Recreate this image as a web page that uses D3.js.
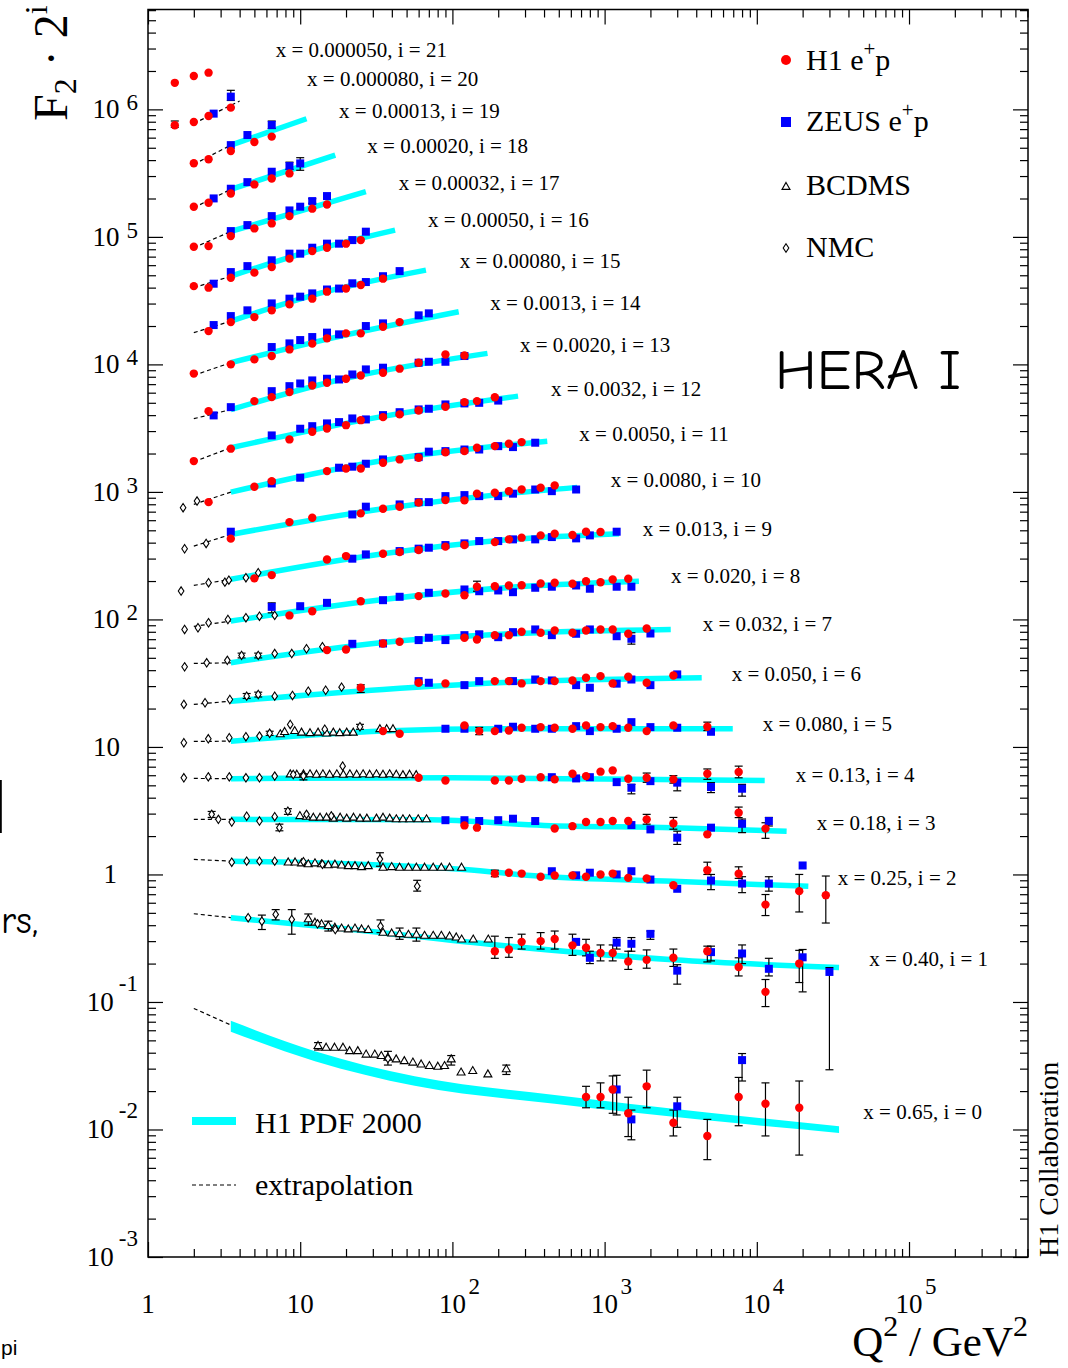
<!DOCTYPE html>
<html><head><meta charset="utf-8">
<script src="https://cdn.jsdelivr.net/npm/d3@7/dist/d3.min.js"></script>
<style>
body{margin:0;background:#fff;}
svg{display:block;}
text{font-family:"Liberation Serif","Times New Roman",serif;fill:#000;}
</style></head><body>
<svg id="chart" width="1068" height="1368"></svg>
<script>
// ---------------- DATA ----------------
// x bins (label text), i = 0..21
const xBins = ["0.65","0.40","0.25","0.18","0.13","0.080","0.050","0.032","0.020","0.013","0.0080","0.0050","0.0032","0.0020","0.0013","0.00080","0.00050","0.00032","0.00020","0.00013","0.000080","0.000050"];
// label anchors (Q2 of label start, log10 of plotted value at baseline), i = 0..21
const labelQ2 = [50100,54850,34030,24770,18020,10930,6846,4413,2729,1779,1097,682,444,278,177.4,111.7,69.1,44.4,27.6,18.0,11.1,6.9];
const labelLogV = [-1.9216,-0.7192,-0.0839,0.3475,0.7263,1.1263,1.5184,1.9106,2.2824,2.6533,3.0353,3.4008,3.7514,4.1004,4.4259,4.7529,5.0745,5.3671,5.6549,5.9341,6.1827,6.4125];

// [i, Q2, F2, errLo, errHi]
const h1 = [
 [21,1.5,0.77],[21,2,0.87],[21,2.5,0.925],
 [20,1.5,0.715,0.69,0.773],[20,2,0.76],[20,2.5,0.846],[20,3.5,0.984],
 [19,2,0.72],[19,2.5,0.774],[19,3.5,0.9],[19,5,1.057],[19,6.5,1.166],
 [18,2,0.658],[18,2.5,0.707],[18,3.5,0.836],[18,5,0.984],[18,6.5,1.096],[18,8.5,1.2],
 [17,2,0.639],[17,2.5,0.646],[17,3.5,0.774],[17,5,0.889],[17,6.5,0.973],[17,8.5,1.11],[17,12,1.27],[17,15,1.37],
 [16,2,0.627],[16,2.5,0.61],[16,3.5,0.73],[16,5,0.8],[16,6.5,0.885],[16,8.5,1.03],[16,12,1.18],[16,15,1.255],[16,20,1.35],[16,25,1.44],
 [15,2.5,0.557],[15,3.5,0.655],[15,5,0.717],[15,6.5,0.81],[15,8.5,0.902],[15,12,1.0],[15,15,1.135],[15,20,1.2],[15,25,1.28],[15,35,1.435],
 [14,2,0.517],[14,3.5,0.611],[14,5,0.668],[14,6.5,0.71],[14,8.5,0.8],[14,12,0.888],[14,15,0.977],[14,20,1.069],[14,25,1.069],[14,35,1.206],[14,45,1.31],
 [13,2.5,0.525],[13,5,0.629],[13,6.5,0.676],[13,8.5,0.74],[13,12,0.835],[13,15,0.877],[13,20,0.942],[13,25,1.0],[13,35,1.05],[13,45,1.13],[13,60,1.258],[13,90,1.46],[13,120,1.435],
 [12,2,0.426],[12,3.5,0.533],[12,8.5,0.63],[12,12,0.724],[12,15,0.768],[12,20,0.815],[12,25,0.892],[12,35,0.942],[12,45,0.99],[12,60,1.063],[12,90,1.137],[12,120,1.235],[12,145,1.258],[12,190,1.35],
 [11,2.5,0.406],[11,5,0.536],[11,6.5,0.593],[11,15,0.711],[11,20,0.746],[11,25,0.746],[11,35,0.827],[11,45,0.878],[11,60,0.905],[11,90,1.0],[11,120,1.02],[11,145,1.085],[11,190,1.116],[11,235,1.166],[11,285,1.2],
 [10,3.5,0.42],[10,8.5,0.566],[10,12,0.613],[10,25,0.663],[10,35,0.721],[10,45,0.748],[10,60,0.805],[10,90,0.842],[10,120,0.838],[10,145,0.946],[10,190,0.963],[10,235,0.99],[10,285,1.02],[10,380,1.054],[10,470,1.098],
 [9,5,0.41],[9,6.5,0.435],[9,15,0.577],[9,20,0.613],[9,35,0.64],[9,45,0.659],[9,60,0.684],[9,90,0.727],[9,120,0.748],[9,190,0.789],[9,235,0.829],[9,285,0.855],[9,380,0.891],[9,470,0.919],[9,615,0.896],[9,755,0.952],[9,940,0.946],
 [8,8.5,0.42],[8,12,0.453],[8,25,0.543],[8,60,0.595],[8,90,0.624],[8,120,0.605],[8,145,0.705,0.65,0.779],[8,190,0.712],[8,235,0.721],[8,285,0.725],[8,380,0.748],[8,470,0.757],[8,615,0.744],[8,755,0.779],[8,940,0.765],[8,1130,0.804],[8,1430,0.814],
 [7,15,0.449],[7,20,0.454],[7,35,0.506],[7,45,0.522],[7,120,0.561],[7,145,0.544],[7,190,0.588],[7,235,0.588],[7,285,0.625],[7,380,0.614],[7,470,0.64],[7,615,0.614],[7,755,0.64],[7,940,0.652],[7,1130,0.652],[7,1430,0.603],[7,1890,0.664],
 [6,25,0.455,0.418,0.48],[6,60,0.498],[6,90,0.492],[6,190,0.513],[6,235,0.513],[6,285,0.492],[6,380,0.513],[6,470,0.513],[6,615,0.519],[6,755,0.545],[6,940,0.561],[6,1130,0.492],[6,1430,0.555],[6,1890,0.498],[6,2830,0.568],
 [5,35,0.416],[5,45,0.397],[5,120,0.461],[5,150,0.416,0.39,0.445],[5,190,0.416],[5,235,0.42],[5,285,0.442],[5,380,0.447],[5,470,0.442],[5,615,0.434],[5,755,0.461],[5,940,0.447],[5,1130,0.455],[5,1430,0.442],[5,1890,0.416],[5,2830,0.461],[5,4730,0.45,0.42,0.489],
 [4,60,0.358],[4,90,0.341],[4,190,0.341],[4,235,0.341],[4,285,0.352],[4,380,0.362],[4,470,0.348],[4,615,0.385],[4,755,0.369],[4,940,0.4],[4,1130,0.409],[4,1430,0.352],[4,1890,0.358,0.33,0.39],[4,2830,0.348,0.325,0.372],[4,4730,0.385,0.348,0.42],[4,7600,0.397,0.358,0.442],
 [3,120,0.303],[3,145,0.291],[3,470,0.287],[3,615,0.299],[3,755,0.322],[3,940,0.322],[3,1130,0.328],[3,1430,0.328],[3,1890,0.338,0.31,0.37],[3,2830,0.314,0.283,0.35],[3,4730,0.258],[3,7600,0.381,0.349,0.422],[3,11400,0.286,0.24,0.318],
 [2,190,0.254,0.24,0.27],[2,235,0.258],[2,285,0.254],[2,380,0.24],[2,470,0.245],[2,615,0.246],[2,755,0.24],[2,940,0.25],[2,1130,0.254],[2,1430,0.235],[2,1890,0.233],[2,2830,0.206],[2,4730,0.27,0.25,0.312],[2,7600,0.253,0.233,0.287],[2,11400,0.145,0.119,0.174],[2,19000,0.185,0.127,0.25],[2,28400,0.172,0.104,0.243],
 [1,190,0.125,0.11,0.164],[1,235,0.129,0.112,0.16],[1,285,0.148,0.13,0.17],[1,380,0.15,0.13,0.175],[1,470,0.156,0.13,0.18],[1,615,0.139,0.116,0.17],[1,755,0.133,0.115,0.155],[1,940,0.121,0.105,0.14],[1,1130,0.121,0.105,0.14],[1,1430,0.104,0.09,0.125],[1,1890,0.107,0.092,0.128],[1,2830,0.111,0.095,0.13],[1,4730,0.125,0.103,0.137],[1,7600,0.094,0.08,0.111],[1,11400,0.06,0.046,0.075],[1,19000,0.1,0.071,0.127],
 [0,755,0.018,0.0148,0.0218],[0,940,0.018,0.0148,0.0232],[0,1130,0.0206,0.0134,0.0263],[0,1430,0.0134,0.0088,0.0179],[0,1890,0.0218,0.0148,0.0292],[0,2830,0.0113,0.0089,0.0142],[0,4730,0.0089,0.0058,0.012],[0,7600,0.018,0.0107,0.0256],[0,11400,0.0159,0.0089,0.0232],[0,19000,0.0148,0.0063,0.024]
];

const zeus = [
 [20,2.7,0.883],[20,3.5,1.2,1.12,1.345],
 [19,3.5,1.0],[19,4.5,1.2],[19,6.5,1.44,1.35,1.545],
 [18,2.7,0.764],[18,3.5,0.91],[18,4.5,1.025],[18,6.5,1.237],[18,8.5,1.37,1.29,1.47],[18,10,1.438,1.27,1.594],
 [17,3.5,0.847],[17,4.5,0.944],[17,6.5,1.11],[17,8.5,1.23],[17,10,1.316],[17,12,1.456,1.4,1.52],[17,15,1.594,1.53,1.66],
 [16,2.7,0.655],[16,3.5,0.808],[16,4.5,0.9],[16,6.5,1.0],[16,8.5,1.127],[16,10,1.127],[16,12,1.255],[16,15,1.35],[16,18,1.35],[16,22,1.44],[16,27,1.676],
 [15,2.7,0.621],[15,3.5,0.73],[15,4.5,0.81],[15,6.5,0.918],[15,8.5,1.0],[15,10,1.037],[15,12,1.1],[15,15,1.18],[15,18,1.2],[15,22,1.32],[15,27,1.35],[15,35,1.5],[15,45,1.645],
 [14,6.5,0.835],[14,8.5,0.892],[14,10,0.947],[14,12,1.0],[14,15,1.083],[14,18,1.05],[14,27,1.22],[14,35,1.28],[14,60,1.48],[14,70,1.534],
 [13,2.7,0.486],[13,3.5,0.564],[13,6.5,0.753],[13,8.5,0.824],[13,10,0.865],[13,12,0.914],[13,15,0.942],[13,18,0.93],[13,22,1.018],[13,27,1.115],[13,35,1.15],[13,60,1.258],[13,70,1.28],[13,90,1.28],[13,120,1.42],
 [12,6.5,0.677],[12,10,0.764],[12,12,0.8],[12,15,0.841],[12,18,0.861],[12,22,0.92],[12,27,0.904],[12,35,0.977],[12,45,1.03],[12,60,1.083],[12,70,1.096],[12,90,1.185],[12,120,1.207],[12,150,1.22],[12,200,1.27],
 [11,6.5,0.569],[11,10,0.631],[11,18,0.756],[11,22,0.77],[11,27,0.812],[11,35,0.878],[11,60,0.915],[11,70,1.01],[11,90,1.02],[11,120,1.05],[11,150,1.05],[11,200,1.116],[11,250,1.097],[11,350,1.187],
 [10,3.5,0.476],[10,22,0.65],[10,27,0.748],[10,45,0.779],[10,60,0.812],[10,70,0.812],[10,90,0.905],[10,120,0.922],[10,150,0.905],[10,200,0.905],[10,250,0.946],[10,350,1.02],[10,450,0.99],[10,650,1.02],
 [9,22,0.585],[9,27,0.632],[9,45,0.671],[9,60,0.701],[9,70,0.713],[9,90,0.748],[9,120,0.771],[9,150,0.804],[9,200,0.804],[9,250,0.829],[9,350,0.829],[9,450,0.864],[9,650,0.844],[9,800,0.891],[9,1200,0.952],
 [8,6.5,0.49,0.44,0.527],[8,10,0.496],[8,15,0.527],[8,35,0.553],[8,45,0.588],[8,70,0.632],[8,120,0.671],[8,150,0.65],[8,200,0.659],[8,250,0.639],[8,350,0.692],[8,450,0.705],[8,650,0.721],[8,800,0.68],[8,1200,0.705],[8,1500,0.705],
 [7,22,0.503],[7,35,0.506],[7,60,0.538],[7,70,0.561],[7,90,0.538],[7,120,0.588],[7,150,0.596,0.56,0.63],[7,200,0.567],[7,250,0.621],[7,350,0.652],[7,450,0.588],[7,650,0.603],[7,800,0.652],[7,1200,0.577],[7,1500,0.551,0.5,0.614],[7,2000,0.606],
 [6,60,0.513],[6,70,0.498],[6,120,0.477],[6,150,0.513],[6,250,0.513],[6,350,0.528],[6,450,0.519],[6,650,0.477],[6,800,0.455],[6,1200,0.49],[6,1500,0.528],[6,2000,0.477],[6,3000,0.579],
 [5,90,0.434],[5,120,0.434],[5,200,0.434],[5,250,0.45],[5,350,0.434],[5,450,0.434],[5,650,0.455],[5,800,0.416],[5,1200,0.434],[5,1500,0.489],[5,2000,0.447],[5,3000,0.442],[5,5000,0.411],
 [4,450,0.362],[4,650,0.354],[4,800,0.362],[4,1200,0.331],[4,1500,0.299,0.268,0.318],[4,2000,0.337],[4,3000,0.328,0.283,0.348],[4,5000,0.303,0.274,0.328],[4,8000,0.294,0.257,0.318],
 [3,90,0.333],[3,120,0.333],[3,150,0.328],[3,200,0.333],[3,250,0.342],[3,350,0.328],[3,1500,0.305],[3,2000,0.282],[3,3000,0.243,0.215,0.273],[3,5000,0.291],[3,8000,0.312,0.266,0.34],[3,12000,0.328,0.3,0.35],
 [2,450,0.265],[2,650,0.246],[2,800,0.258],[2,1200,0.25],[2,1500,0.265],[2,2000,0.228],[2,3000,0.193],[2,5000,0.224,0.19,0.25],[2,8000,0.212,0.18,0.24],[2,12000,0.212,0.185,0.24],[2,20000,0.294],
 [1,650,0.148],[1,800,0.111,0.1,0.125],[1,1200,0.146,0.13,0.16],[1,1500,0.143,0.125,0.16],[1,2000,0.171,0.155,0.18],[1,3000,0.088,0.069,0.098],[1,5000,0.123,0.105,0.137],[1,8000,0.12,0.1,0.14],[1,12000,0.091,0.08,0.11],[1,20000,0.112,0.06,0.129],[1,30000,0.086,0.0147,0.093],
 [0,1200,0.0206,0.013,0.0266],[0,1500,0.012,0.0083,0.0142],[0,3000,0.0152,0.0104,0.0179],[0,8000,0.035,0.024,0.0394]
];

const bcdms = [
 [5,7.4,0.392],[5,7.9,0.409],[5,9.2,0.416],[5,10.2,0.404],[5,11.6,0.4],[5,13.1,0.404],[5,14.9,0.398],[5,16.5,0.404],[5,18.2,0.4],[5,20.2,0.404],[5,22.3,0.404],[5,33.4,0.43],[5,37,0.43],[5,40.7,0.43],
 [4,8.6,0.38],[4,9.5,0.378],[4,10.5,0.38],[4,11.6,0.381],[4,12.8,0.378],[4,14.1,0.381],[4,15.6,0.378],[4,17.4,0.381],[4,19.2,0.378],[4,21.2,0.381],[4,23.5,0.378],[4,25.9,0.381],[4,28.6,0.378],[4,31.7,0.381],[4,35,0.378],[4,38.7,0.381],[4,42.8,0.378],[4,47.3,0.375],[4,52.3,0.378],[4,57.8,0.375],
 [3,9.95,0.358],[3,11,0.354],[3,12.2,0.348],[3,13.5,0.348],[3,14.9,0.348],[3,16.5,0.342],[3,18.3,0.348],[3,20.2,0.342],[3,22.4,0.348],[3,24.7,0.342],[3,27.4,0.342],[3,31.7,0.342],[3,35,0.348],[3,38.7,0.342],[3,42.8,0.338],[3,47.3,0.338],[3,52.3,0.338],[3,59.6,0.338],[3,67.6,0.338],
 [2,8.34,0.31],[2,9.25,0.31],[2,10.2,0.305],[2,11.3,0.3],[2,12.5,0.305],[2,13.8,0.3],[2,15.3,0.295],[2,16.9,0.298],[2,18.7,0.293],[2,20.7,0.29],[2,22.9,0.29],[2,25.3,0.285],[2,28,0.29],[2,35,0.282],[2,39.9,0.285],[2,45,0.282],[2,51.4,0.282],[2,58,0.282],[2,65.6,0.282],[2,74.8,0.282],[2,84.6,0.282],[2,95.8,0.282],[2,114.8,0.282],
 [1,11.3,0.222,0.2,0.245],[1,12.5,0.209],[1,13.8,0.203],[1,15.3,0.197,0.18,0.215],[1,16.9,0.191],[1,18.7,0.188],[1,20.7,0.185],[1,22.9,0.188],[1,25.3,0.185],[1,28,0.183],[1,35,0.174],[1,39.9,0.172],[1,45,0.17,0.155,0.19],[1,51.4,0.168],[1,58,0.168,0.15,0.19],[1,65.6,0.165],[1,74.8,0.165],[1,84.6,0.165],[1,95.8,0.163],[1,106,0.16],[1,115,0.154],[1,137,0.154],[1,172,0.154],
 [0,13.1,0.0451,0.042,0.048],[0,14.8,0.0437],[0,16.8,0.0437],[0,19.1,0.0437],[0,21.1,0.0411],[0,23.9,0.0411],[0,27.1,0.0386],[0,30.9,0.0386],[0,34.1,0.0376],[0,37.7,0.0365],[0,42.7,0.0354],[0,48.3,0.0343],[0,55,0.0334],[0,62.3,0.0323],[0,70.6,0.0314],[0,80.2,0.031],[0,88.8,0.0314],[0,98.2,0.0354,0.032,0.038],[0,114,0.0279],[0,136,0.0287],[0,171,0.027],[0,226,0.0296,0.027,0.032]
];

const nmc = [
 [11,1.7,0.367],[11,2.1,0.414],
 [10,1.74,0.35],[10,2.41,0.385],
 [9,1.65,0.326],[9,2.5,0.379],[9,3.2,0.383],[9,3.4,0.397],[9,4.4,0.415],[9,5.3,0.454],
 [8,1.74,0.326],[8,2.13,0.336],[8,2.5,0.368],[8,3.35,0.39],[8,4.4,0.403],[8,5.4,0.414],[8,6.8,0.42],
 [7,1.74,0.332],[7,2.43,0.357],[7,3.32,0.373],[7,4.12,0.408,0.39,0.425],[7,5.3,0.408,0.39,0.425],[7,6.8,0.422],[7,8.8,0.422],[7,11,0.46],[7,14,0.477],
 [6,1.72,0.337],[6,2.37,0.347],[6,3.45,0.368],[6,4.45,0.391,0.375,0.41],[6,5.3,0.403,0.385,0.42],[6,6.8,0.391],[6,8.9,0.396],[6,11.3,0.428],[6,14.7,0.435],[6,18.7,0.46],
 [5,1.72,0.337],[5,2.49,0.362],[5,3.42,0.369],[5,4.4,0.376],[5,5.4,0.38],[5,6.3,0.4,0.385,0.415],[5,8.6,0.469],[5,14.5,0.43],[5,24.7,0.45,0.43,0.47],
 [4,1.72,0.358],[4,2.49,0.364],[4,3.42,0.364],[4,4.4,0.358],[4,5.4,0.358],[4,6.8,0.369],[4,9,0.38],[4,10.5,0.37,0.345,0.385],[4,19,0.442],
 [3,2.62,0.37,0.35,0.39],[3,2.9,0.338],[3,3.55,0.322],[3,4.45,0.358],[3,5.4,0.328],[3,6.8,0.355],[3,7.3,0.291,0.275,0.31],[3,8.3,0.392,0.37,0.41],[3,11,0.37],[3,16,0.36],
 [2,3.55,0.312],[2,4.45,0.318],[2,5.4,0.318],[2,6.8,0.318],[2,10.5,0.315],[2,14,0.3],[2,33.4,0.33,0.29,0.37],[2,58.7,0.202,0.185,0.225],
 [1,4.55,0.229],[1,5.6,0.215,0.185,0.24],[1,6.9,0.243,0.22,0.265],[1,8.8,0.222,0.17,0.265],[1,13,0.205],[1,17,0.185],[1,33.7,0.196,0.175,0.22],
 [0,37.7,0.036,0.032,0.041]
];

// H1 PDF 2000 fit, [i, Q2, F2]
const fitBand = [
 [19,3.5,1.0],[19,11,1.61],
 [18,3.5,0.9],[18,17,1.67],
 [17,3.5,0.842],[17,27,1.725],
 [16,3.5,0.75],[16,12,1.19],[16,42,1.725],
 [15,3.5,0.667],[15,15,1.14],[15,67,1.675],
 [14,3.5,0.63],[14,20,1.04],[14,110,1.58],
 [13,3.5,0.54],[13,20,0.95],[13,170,1.49],
 [12,3.5,0.542],[12,35,0.955],[12,270,1.377],
 [11,3.5,0.487],[11,35,0.86],[11,420,1.22],
 [10,3.5,0.453],[10,35,0.72],[10,200,0.93],[10,660,1.06],
 [9,3.5,0.403],[9,35,0.64],[9,250,0.83],[9,1245,0.919],
 [8,3.5,0.379],[8,35,0.56],[8,300,0.71],[8,1680,0.78],
 [7,3.5,0.357],[7,35,0.515],[7,300,0.61],[7,2720,0.652],
 [6,3.5,0.357],[6,35,0.441],[6,200,0.498],[6,4345,0.545],
 [5,3.5,0.347],[5,35,0.416],[5,200,0.434],[5,6950,0.434],
 [4,3.5,0.352],[4,100,0.358],[4,1000,0.35],[4,11270,0.341],
 [3,3.5,0.338],[3,70,0.335],[3,400,0.303],[3,2800,0.291],[3,15700,0.273],
 [2,3.5,0.318],[2,120,0.273],[2,380,0.242],[2,2800,0.221],[2,21800,0.202],
 [1,3.5,0.229],[1,17,0.191],[1,205,0.139],[1,2830,0.107],[1,34700,0.093]
];
// i = 0 fit band as [Q2, lower F2, upper F2]
const band0 = [[3.5,0.0585,0.0712],[12.5,0.0343,0.0411],[56.5,0.022,0.0261],[470,0.0159,0.0186],[4690,0.0118,0.0136],[34700,0.0094,0.0106]];
// extrapolation: [i, Q2 start, F2 start, Q2 end, F2 end]
const extrap = [[20,2,0.74,4.0,1.108],[19,2,0.707,3.5,1.0],[18,2,0.646,3.5,0.9],[17,2,0.627,3.5,0.842],[16,2,0.61,3.5,0.75],[15,2,0.541,3.5,0.667],[14,2,0.501,3.5,0.63],[13,2,0.458,3.5,0.54],[12,2,0.421,3.5,0.542],[11,2,0.39,3.5,0.487],[10,2,0.367,3.5,0.453],[9,2,0.361,3.5,0.403],[8,2,0.344,3.5,0.379],[7,2,0.353,3.5,0.357],[6,2,0.337,3.5,0.357],[5,2,0.345,3.5,0.347],[4,2,0.354,3.5,0.352],[3,2,0.338,3.5,0.338],[2,2,0.328,3.5,0.318],[1,2,0.246,3.5,0.229],[0,2,0.089,3.5,0.066]];

// axis ticks
const xMajor = [1,10,100,1e3,1e4,1e5];
const yMajor = [1e-3,1e-2,1e-1,1,10,100,1e3,1e4,1e5,1e6];

// ---------------- DRAW ----------------
const svg = d3.select('#chart');
const L=148, R=1028, T=9.5, B=1257;
const x = d3.scaleLog().domain([1,6.05e5]).range([L,R]);
const y = d3.scaleLog().domain([1e-3,6.07e6]).range([B,T]);
const val = (i,f) => f*Math.pow(2,i);
const CYAN = '#00ffff';

const minors = (maj, max) => { const a=[]; maj.forEach(m=>{ for(let k=2;k<=9;k++){ const v=k*m; if(v<=max) a.push(v);} }); return a; };
const xMinor = minors(xMajor, 6.05e5);
const yMinor = minors(yMajor, 6.07e6);

// bands
const gBand = svg.append('g');
const lineGen = d3.line().x(d=>x(d[1])).y(d=>y(val(d[0],d[2]))).curve(d3.curveMonotoneX);
const bandGroups = d3.groups(fitBand, d=>d[0]);
gBand.selectAll('path.band').data(bandGroups).join('path')
  .attr('d', d=>lineGen(d[1])).attr('fill','none').attr('stroke',CYAN).attr('stroke-width',5.5);
const area0 = d3.area().x(d=>x(d[0])).y0(d=>y(val(0,d[1]))).y1(d=>y(val(0,d[2]))).curve(d3.curveMonotoneX);
gBand.append('path').attr('d', area0(band0)).attr('fill',CYAN);

// extrapolation
svg.append('g').selectAll('line').data(extrap).join('line')
  .attr('x1',d=>x(d[1])).attr('y1',d=>y(val(d[0],d[2])))
  .attr('x2',d=>x(d[3])).attr('y2',d=>y(val(d[0],d[4])))
  .attr('stroke','#000').attr('stroke-width',1.2).attr('stroke-dasharray','4,3');

// error bars
const gErr = svg.append('g').attr('stroke','#000').attr('stroke-width',1.2);
const errs = [...h1, ...zeus, ...bcdms, ...nmc].filter(d=>d.length>3);
errs.forEach(d=>{
  const cx = x(d[1]), ya = y(val(d[0],d[3])), yb = y(val(d[0],d[4]));
  gErr.append('line').attr('x1',cx).attr('x2',cx).attr('y1',ya).attr('y2',yb);
  gErr.append('line').attr('x1',cx-4).attr('x2',cx+4).attr('y1',ya).attr('y2',ya);
  gErr.append('line').attr('x1',cx-4).attr('x2',cx+4).attr('y1',yb).attr('y2',yb);
});

// BCDMS triangles, NMC diamonds
const triPath = 'M0,-4.6L4,2.4L-4,2.4Z';
const diaPath = 'M0,-4.2L2.8,0L0,4.2L-2.8,0Z';
svg.append('g').selectAll('path').data(bcdms).join('path')
  .attr('d',triPath).attr('transform',d=>`translate(${x(d[1])},${y(val(d[0],d[2]))})`)
  .attr('fill','#fff').attr('stroke','#000').attr('stroke-width',1.1);
svg.append('g').selectAll('path').data(nmc).join('path')
  .attr('d',diaPath).attr('transform',d=>`translate(${x(d[1])},${y(val(d[0],d[2]))})`)
  .attr('fill','#fff').attr('stroke','#000').attr('stroke-width',1.1);
// ZEUS squares
svg.append('g').selectAll('rect').data(zeus).join('rect')
  .attr('x',d=>x(d[1])-4).attr('y',d=>y(val(d[0],d[2]))-4).attr('width',8).attr('height',8).attr('fill','#0000ff');
// H1 circles
svg.append('g').selectAll('circle').data(h1).join('circle')
  .attr('cx',d=>x(d[1])).attr('cy',d=>y(val(d[0],d[2]))).attr('r',4.2).attr('fill','#ff0000');

// frame + ticks
const tick = (g)=>{ g.select('.domain').remove(); g.selectAll('line').attr('stroke','#000').attr('stroke-width',1.2); };
svg.append('g').attr('transform',`translate(${L},0)`).call(d3.axisLeft(y).tickValues(yMajor).tickSize(-15).tickFormat('')).call(tick);
svg.append('g').attr('transform',`translate(${L},0)`).call(d3.axisLeft(y).tickValues(yMinor).tickSize(-8).tickFormat('')).call(tick);
svg.append('g').attr('transform',`translate(${R},0)`).call(d3.axisRight(y).tickValues(yMajor).tickSize(-15).tickFormat('')).call(tick);
svg.append('g').attr('transform',`translate(${R},0)`).call(d3.axisRight(y).tickValues(yMinor).tickSize(-8).tickFormat('')).call(tick);
svg.append('g').attr('transform',`translate(0,${B})`).call(d3.axisBottom(x).tickValues(xMajor).tickSize(-15).tickFormat('')).call(tick);
svg.append('g').attr('transform',`translate(0,${B})`).call(d3.axisBottom(x).tickValues(xMinor).tickSize(-8).tickFormat('')).call(tick);
svg.append('g').attr('transform',`translate(0,${T})`).call(d3.axisTop(x).tickValues(xMajor).tickSize(-15).tickFormat('')).call(tick);
svg.append('g').attr('transform',`translate(0,${T})`).call(d3.axisTop(x).tickValues(xMinor).tickSize(-8).tickFormat('')).call(tick);
svg.append('rect').attr('x',L).attr('y',T).attr('width',R-L).attr('height',B-T).attr('fill','none').attr('stroke','#000').attr('stroke-width',1.5);

// y tick labels
yMajor.forEach(v=>{
  const e = Math.round(Math.log10(v)), py = y(v);
  if(e===0){ svg.append('text').attr('x',117).attr('y',py+9).attr('text-anchor','end').attr('font-size',27).text('1'); return; }
  if(e===1){ svg.append('text').attr('x',120).attr('y',py+9).attr('text-anchor','end').attr('font-size',27).text('10'); return; }
  const t = svg.append('text').attr('x',138).attr('y',py+9).attr('text-anchor','end').attr('font-size',27).text('10');
  t.append('tspan').attr('dx', e>0?7:5).attr('dy', e>0?-8:-20).attr('font-size',23).text(e>0? String(e) : '-'+(-e));
});
// x tick labels
xMajor.forEach(v=>{
  const e = Math.round(Math.log10(v)), px = x(v);
  if(e===0){ svg.append('text').attr('x',px).attr('y',1313).attr('text-anchor','middle').attr('font-size',27).text('1'); return; }
  svg.append('text').attr('x',px).attr('y',1313).attr('text-anchor','middle').attr('font-size',27).text('10');
  if(e>1) svg.append('text').attr('x',px+16).attr('y',1294).attr('font-size',23).text(String(e));
});

// row labels
xBins.forEach((b,i)=>{
  svg.append('text').attr('x',x(labelQ2[i])).attr('y',y(Math.pow(10,labelLogV[i])))
    .attr('font-size',21).text(`x = ${b}, i = ${i}`);
});

// axis titles
const yt = svg.append('text').attr('transform','translate(67,121) rotate(-90)').attr('font-size',48);
yt.append('tspan').text('F');
yt.append('tspan').attr('dy',9).attr('font-size',32).text('2');
yt.append('tspan').attr('dy',-9).text(' \u00b7 2');
yt.append('tspan').attr('dy',-20).attr('font-size',32).text('i');

const xt = svg.append('text').attr('x',1028).attr('y',1356).attr('text-anchor','end').attr('font-size',43);
xt.append('tspan').text('Q');
xt.append('tspan').attr('dy',-20).attr('font-size',30).text('2');
xt.append('tspan').attr('dy',20).text(' / GeV');
xt.append('tspan').attr('dy',-20).attr('font-size',30).text('2');

svg.append('text').attr('transform','translate(1058,1257) rotate(-90)').attr('font-size',28).text('H1 Collaboration');

// legend top-right
const lg = svg.append('g');
lg.append('circle').attr('cx',786).attr('cy',60).attr('r',5).attr('fill','#ff0000');
lg.append('rect').attr('x',781).attr('y',117).attr('width',10).attr('height',10).attr('fill','#0000ff');
lg.append('path').attr('d',triPath).attr('transform','translate(786,187)').attr('fill','#fff').attr('stroke','#000').attr('stroke-width',1.1);
lg.append('path').attr('d',diaPath).attr('transform','translate(786,248)').attr('fill','#fff').attr('stroke','#000').attr('stroke-width',1.1);
const legT = [['H1 e','p',70],['ZEUS e','p',131],['BCDMS',null,195],['NMC',null,257]];
legT.forEach(d=>{
  const t = lg.append('text').attr('x',806).attr('y',d[2]).attr('font-size',30).text(d[0]);
  if(d[1]){ t.append('tspan').attr('dy',-14).attr('font-size',21).text('+'); t.append('tspan').attr('dy',14).text(d[1]); }
});

// legend bottom-left
lg.append('line').attr('x1',192).attr('x2',236).attr('y1',1121).attr('y2',1121).attr('stroke',CYAN).attr('stroke-width',8);
lg.append('text').attr('x',255).attr('y',1133).attr('font-size',30).text('H1 PDF 2000');
lg.append('line').attr('x1',192).attr('x2',236).attr('y1',1185).attr('y2',1185).attr('stroke','#000').attr('stroke-width',1.2).attr('stroke-dasharray','4,3');
lg.append('text').attr('x',255).attr('y',1195).attr('font-size',30).text('extrapolation');

// slide annotations
const comic = '"Comic Sans MS","Comic Neue","DejaVu Sans",sans-serif';
svg.append('text').attr('x',775).attr('y',389).attr('font-size',56).attr('textLength',186).attr('lengthAdjust','spacingAndGlyphs')
  .style('font-family',comic).text('HERA I');
svg.append('text').attr('x',1).attr('y',933).attr('font-size',38).style('font-family',comic).text('rs,');
svg.append('line').attr('x1',0.8).attr('x2',0.8).attr('y1',780).attr('y2',833).attr('stroke','#000').attr('stroke-width',2);
svg.append('text').attr('x',1).attr('y',1355).attr('font-size',21).style('font-family','"Liberation Sans",Arial,sans-serif').text('pi');
</script>
</body></html>
